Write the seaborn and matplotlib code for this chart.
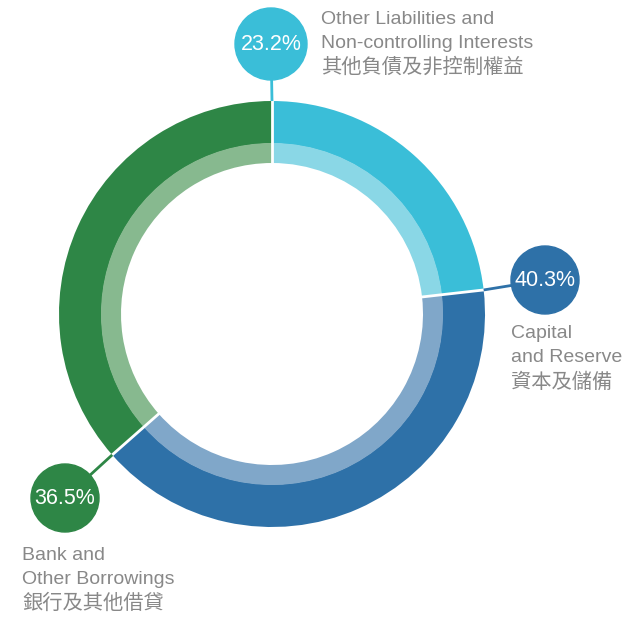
import numpy as np
import matplotlib
matplotlib.use("Agg")
import matplotlib.pyplot as plt
import seaborn as sns

sns.set_theme(style="white")
plt.rcParams["font.family"] = ["Liberation Sans", "Noto Sans CJK TC", "DejaVu Sans"]

# data
categories = [
    "Other Liabilities and\nNon-controlling Interests\n其他負債及非控制權益",
    "Capital\nand Reserve\n資本及儲備",
    "Bank and\nOther Borrowings\n銀行及其他借貸",
]
shares = [23.2, 40.3, 36.5]
outer_colors = ["#3ABED8", "#2E71A8", "#2E8646"]
inner_colors = ["#8AD7E6", "#80A7C9", "#87B98F"]

W, H = 637, 617
cx, cy = 272, H - 314
R = 213
r_in = R - 62

fig = plt.figure(figsize=(W / 100, H / 100), dpi=100)
ax = fig.add_axes([0, 0, 1, 1])

ax.pie(shares, radius=R, center=(cx, cy), startangle=90, counterclock=False,
       colors=outer_colors, wedgeprops=dict(width=42.5, linewidth=0))
ax.pie(shares, radius=R - 42, center=(cx, cy), startangle=90, counterclock=False,
       colors=inner_colors, wedgeprops=dict(width=20, linewidth=0))

# bubbles (centre x, centre y from top, radius) and label anchors
bubbles = [(271, 44, 36), (545, 280, 34), (65, 498, 34)]
label_pos = [(321, 19), (511, 334), (22, 555)]

start = 90.0
for i, (share, col) in enumerate(zip(shares, outer_colors)):
    ang = np.deg2rad(start)
    c, s = np.cos(ang), np.sin(ang)
    # white separator across both rings
    ax.plot([cx + (r_in - 1) * c, cx + (R + 1) * c], [cy + (r_in - 1) * s, cy + (R + 1) * s],
            color="white", lw=2, solid_capstyle="butt", zorder=2)
    px, py = cx + R * c, cy + R * s
    bx, by, br = bubbles[i]
    by = H - by
    ax.plot([px, bx], [py, by], color=col, lw=2, solid_capstyle="butt", zorder=3)
    ax.add_patch(plt.Circle((bx, by), br, color=col, zorder=4))
    ax.text(bx, by, f"{share:.1f}%", color="white", fontsize=15.5,
            ha="center", va="center", zorder=5)
    lx, ly = label_pos[i]
    for j, line in enumerate(categories[i].split("\n")):
        fs = 14 if line.isascii() else 14.6
        ax.text(lx, H - (ly + 24 * j), line, color="#888888", fontsize=fs,
                ha="left", va="center")
    start -= share / sum(shares) * 360

ax.set_xlim(0, W)
ax.set_ylim(0, H)
ax.set_aspect("equal")
ax.axis("off")

fig.savefig("out.png", dpi=100)
